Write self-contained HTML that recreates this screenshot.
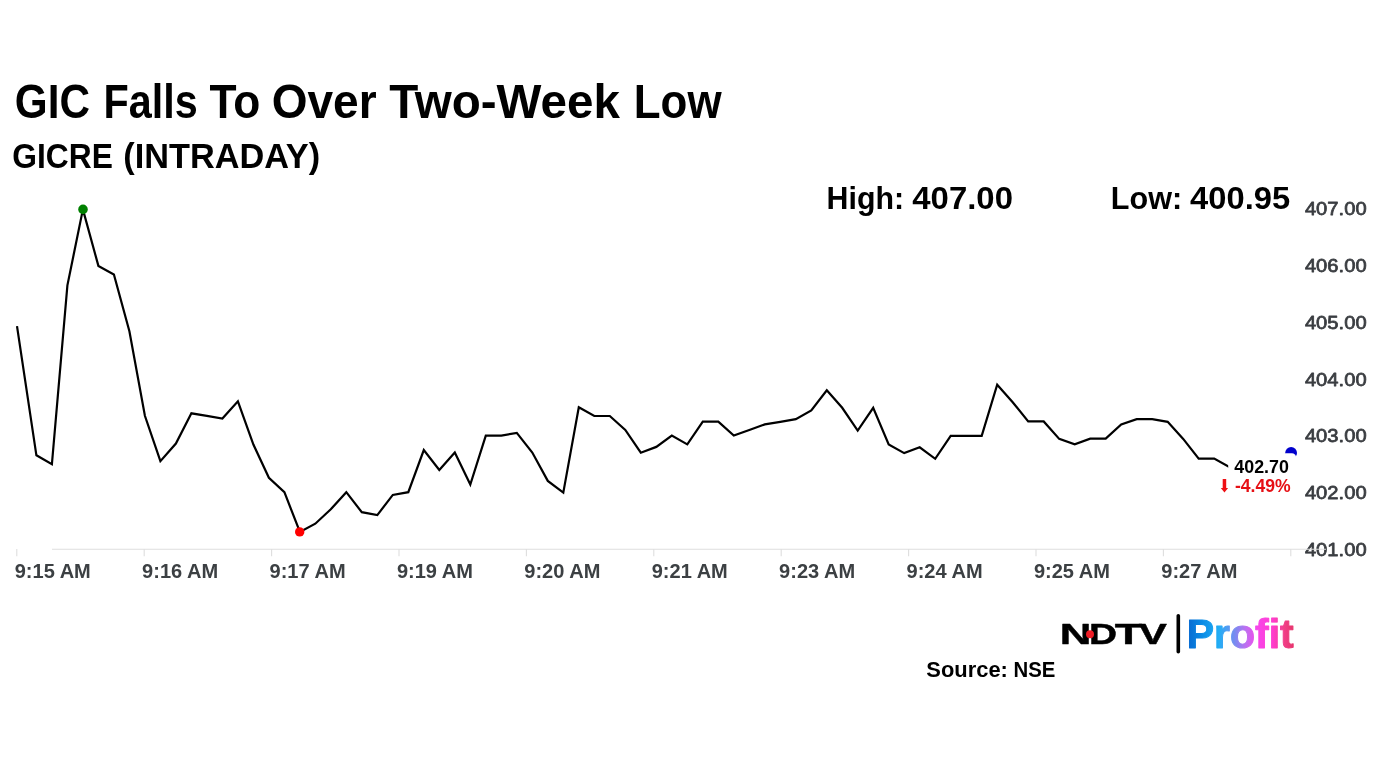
<!DOCTYPE html>
<html lang="en">
<head>
<meta charset="utf-8">
<title>GIC Falls To Over Two-Week Low</title>
<style>
html,body{margin:0;padding:0;background:#fff;}
body{width:1382px;height:777px;overflow:hidden;}
svg{display:block;font-family:"Liberation Sans",sans-serif;}
svg text{white-space:pre;}
</style>
</head>
<body>
<svg width="1382" height="777" viewBox="0 0 1382 777">
<defs>
<linearGradient id="pg" x1="0" y1="0" x2="1" y2="0">
<stop offset="0" stop-color="#0868d0"/>
<stop offset="0.15" stop-color="#0a8de6"/>
<stop offset="0.30" stop-color="#22aef5"/>
<stop offset="0.45" stop-color="#7a8af0"/>
<stop offset="0.56" stop-color="#c26cf0"/>
<stop offset="0.66" stop-color="#f845ea"/>
<stop offset="0.80" stop-color="#ff3dcf"/>
<stop offset="0.90" stop-color="#f2408a"/>
<stop offset="1" stop-color="#e6336a"/>
</linearGradient>
</defs>
<rect width="1382" height="777" fill="#fff"/>

<!-- headings -->
<g id="headings">
<text transform="matrix(0.4226 0 0 0.4757 14.81 117.70)" font-size="100" font-weight="bold" fill="#000" >GIC</text>
<text transform="matrix(0.4137 0 0 0.4757 103.42 117.70)" font-size="100" font-weight="bold" fill="#000" >Falls</text>
<text transform="matrix(0.4428 0 0 0.4757 209.56 117.70)" font-size="100" font-weight="bold" fill="#000" >To</text>
<text transform="matrix(0.4601 0 0 0.4757 271.76 117.70)" font-size="100" font-weight="bold" fill="#000" >Over</text>
<text transform="matrix(0.4756 0 0 0.4757 389.22 117.70)" font-size="100" font-weight="bold" fill="#000" >Two-Week</text>
<text transform="matrix(0.4393 0 0 0.4757 633.76 117.70)" font-size="100" font-weight="bold" fill="#000" >Low</text>
<text transform="matrix(0.3175 0 0 0.3471 12.33 168.40)" font-size="100" font-weight="bold" fill="#000" >GICRE</text>
<text transform="matrix(0.3432 0 0 0.3471 123.23 168.40)" font-size="100" font-weight="bold" fill="#000" >(INTRADAY)</text>
<text transform="matrix(0.3035 0 0 0.3100 826.58 208.60)" font-size="100" font-weight="bold" fill="#000" >High:</text>
<text transform="matrix(0.3293 0 0 0.3100 912.27 208.60)" font-size="100" font-weight="bold" fill="#000" >407.00</text>
<text transform="matrix(0.3056 0 0 0.3100 1110.87 208.60)" font-size="100" font-weight="bold" fill="#000" >Low:</text>
<text transform="matrix(0.3272 0 0 0.3100 1190.07 208.60)" font-size="100" font-weight="bold" fill="#000" >400.95</text>
<text transform="matrix(0.2191 0 0 0.2229 926.36 677.30)" font-size="100" font-weight="bold" fill="#000" >Source:</text>
<text transform="matrix(0.2037 0 0 0.2229 1013.58 677.30)" font-size="100" font-weight="bold" fill="#000" >NSE</text>
</g>
<!-- y axis labels -->
<g id="yaxis">
<text transform="matrix(0.2018 0 0 0.1913 1304.90 215.40)" font-size="100" font-weight="normal" fill="#3a3d41" stroke="#3a3d41" stroke-width="4.07" stroke-linejoin="round" >407.00</text>
<text transform="matrix(0.2018 0 0 0.1913 1304.90 272.10)" font-size="100" font-weight="normal" fill="#3a3d41" stroke="#3a3d41" stroke-width="4.07" stroke-linejoin="round" >406.00</text>
<text transform="matrix(0.2018 0 0 0.1913 1304.90 328.80)" font-size="100" font-weight="normal" fill="#3a3d41" stroke="#3a3d41" stroke-width="4.07" stroke-linejoin="round" >405.00</text>
<text transform="matrix(0.2018 0 0 0.1913 1304.90 385.50)" font-size="100" font-weight="normal" fill="#3a3d41" stroke="#3a3d41" stroke-width="4.07" stroke-linejoin="round" >404.00</text>
<text transform="matrix(0.2018 0 0 0.1913 1304.90 442.20)" font-size="100" font-weight="normal" fill="#3a3d41" stroke="#3a3d41" stroke-width="4.07" stroke-linejoin="round" >403.00</text>
<text transform="matrix(0.2018 0 0 0.1913 1304.90 498.90)" font-size="100" font-weight="normal" fill="#3a3d41" stroke="#3a3d41" stroke-width="4.07" stroke-linejoin="round" >402.00</text>
<text transform="matrix(0.2018 0 0 0.1913 1304.90 555.60)" font-size="100" font-weight="normal" fill="#3a3d41" stroke="#3a3d41" stroke-width="4.07" stroke-linejoin="round" >401.00</text>
</g>
<!-- x axis -->
<g id="xaxis">
<line x1="52" y1="549.2" x2="1326" y2="549.2" stroke="#dedede" stroke-width="1.1"/>
<line x1="16.8" y1="549" x2="16.8" y2="556.2" stroke="#dedede" stroke-width="1.1"/>
<line x1="144.2" y1="549" x2="144.2" y2="556.2" stroke="#dedede" stroke-width="1.1"/>
<line x1="271.6" y1="549" x2="271.6" y2="556.2" stroke="#dedede" stroke-width="1.1"/>
<line x1="399.0" y1="549" x2="399.0" y2="556.2" stroke="#dedede" stroke-width="1.1"/>
<line x1="526.4" y1="549" x2="526.4" y2="556.2" stroke="#dedede" stroke-width="1.1"/>
<line x1="653.8" y1="549" x2="653.8" y2="556.2" stroke="#dedede" stroke-width="1.1"/>
<line x1="781.2" y1="549" x2="781.2" y2="556.2" stroke="#dedede" stroke-width="1.1"/>
<line x1="908.6" y1="549" x2="908.6" y2="556.2" stroke="#dedede" stroke-width="1.1"/>
<line x1="1036.0" y1="549" x2="1036.0" y2="556.2" stroke="#dedede" stroke-width="1.1"/>
<line x1="1163.4" y1="549" x2="1163.4" y2="556.2" stroke="#dedede" stroke-width="1.1"/>
<line x1="1290.8" y1="549" x2="1290.8" y2="556.2" stroke="#dedede" stroke-width="1.1"/>
<text transform="matrix(0.2005 0 0 0.1943 14.70 577.80)" font-size="100" font-weight="bold" fill="#3c4043" >9:15 AM</text>
<text transform="matrix(0.2005 0 0 0.1943 142.10 577.80)" font-size="100" font-weight="bold" fill="#3c4043" >9:16 AM</text>
<text transform="matrix(0.2005 0 0 0.1943 269.50 577.80)" font-size="100" font-weight="bold" fill="#3c4043" >9:17 AM</text>
<text transform="matrix(0.2005 0 0 0.1943 396.90 577.80)" font-size="100" font-weight="bold" fill="#3c4043" >9:19 AM</text>
<text transform="matrix(0.2005 0 0 0.1943 524.30 577.80)" font-size="100" font-weight="bold" fill="#3c4043" >9:20 AM</text>
<text transform="matrix(0.2005 0 0 0.1943 651.70 577.80)" font-size="100" font-weight="bold" fill="#3c4043" >9:21 AM</text>
<text transform="matrix(0.2005 0 0 0.1943 779.10 577.80)" font-size="100" font-weight="bold" fill="#3c4043" >9:23 AM</text>
<text transform="matrix(0.2005 0 0 0.1943 906.50 577.80)" font-size="100" font-weight="bold" fill="#3c4043" >9:24 AM</text>
<text transform="matrix(0.2005 0 0 0.1943 1033.90 577.80)" font-size="100" font-weight="bold" fill="#3c4043" >9:25 AM</text>
<text transform="matrix(0.2005 0 0 0.1943 1161.30 577.80)" font-size="100" font-weight="bold" fill="#3c4043" >9:27 AM</text>
</g>
<!-- series -->
<g id="series">
<polyline points="17.0,326.2 36.4,455.3 51.9,464.3 67.4,285.4 82.9,209.4 98.4,265.9 113.9,274.5 129.4,331.3 144.9,415.8 160.4,461.2 175.9,443.6 191.4,413.3 206.9,415.9 222.4,418.6 237.9,401.3 253.4,444.5 268.9,477.8 284.4,492.2 299.9,531.9 315.3,523.7 330.8,509.3 346.3,492.2 361.8,512.2 377.3,515.1 392.8,494.9 408.3,492.2 423.8,450.0 439.3,470.0 454.8,452.5 470.3,484.6 485.8,435.6 501.3,435.6 516.8,432.9 532.3,452.5 547.8,480.9 563.3,492.6 578.8,407.2 594.3,416.0 609.8,416.0 625.3,430.0 640.8,452.7 656.3,446.9 671.8,435.6 687.3,444.4 702.8,421.6 718.3,421.6 733.8,435.6 749.3,430.0 764.8,424.4 780.3,421.8 795.8,419.1 811.3,410.4 826.8,390.3 842.2,407.8 857.7,430.6 873.2,407.8 888.7,444.4 904.2,453.1 919.7,447.3 935.2,458.8 950.7,435.8 966.2,435.8 981.7,435.8 997.2,384.7 1012.7,402.2 1028.2,421.4 1043.7,421.4 1059.2,438.9 1074.7,444.4 1090.2,438.6 1105.7,438.6 1121.2,424.4 1136.7,419.1 1152.2,419.1 1167.7,421.8 1183.2,438.9 1198.7,458.6 1214.2,458.6 1229.7,467.3 1245.2,470.0 1260.7,464.0 1276.2,458.0 1291.7,452.5" fill="none" stroke="#000" stroke-width="2.2" stroke-linejoin="miter" stroke-linecap="butt"/>
<circle cx="83" cy="209.4" r="4.8" fill="#008000"/>
<circle cx="299.7" cy="531.9" r="4.7" fill="#ff0000"/>
<circle cx="1291.1" cy="452.9" r="5.9" fill="#0000cd"/>
</g>
<!-- last price label -->
<g id="pricelabel">
<rect x="1228.2" y="453.2" width="67.9" height="45" rx="4.2" ry="4.2" fill="#fff"/>
<text transform="matrix(0.1786 0 0 0.1757 1234.32 472.70)" font-size="100" font-weight="bold" fill="#000" >402.70</text>
<text transform="matrix(0.1760 0 0 0.1771 1234.97 492.30)" font-size="100" font-weight="bold" fill="#e61015" >-4.49%</text>
<path d="M1222.7 478.9h3.5v9.2h1.9l-3.65 4.5-3.65-4.5h1.9z" fill="#ee1015"/>
</g>
<!-- logo -->
<g id="logo">
<text transform="matrix(0.4383 0 0 0.2900 1059.82 643.75)" font-size="100" font-weight="bold" fill="#000" stroke="#000" stroke-width="1.40" stroke-linejoin="round" >N</text>
<text transform="matrix(0.3889 0 0 0.2900 1088.92 643.75)" font-size="100" font-weight="bold" fill="#000" stroke="#000" stroke-width="1.49" stroke-linejoin="round" >D</text>
<text transform="matrix(0.4500 0 0 0.2900 1114.80 643.75)" font-size="100" font-weight="bold" fill="#000" stroke="#000" stroke-width="1.38" stroke-linejoin="round" >T</text>
<text transform="matrix(0.4224 0 0 0.2900 1138.75 643.75)" font-size="100" font-weight="bold" fill="#000" stroke="#000" stroke-width="1.43" stroke-linejoin="round" >V</text>
<circle cx="1090" cy="634.2" r="4" fill="#ee1c25"/>
<rect x="1176.5" y="614" width="3.6" height="39.6" rx="1.8" fill="#000"/>
<text transform="matrix(0.4098 0 0 0.4086 1186.74 648.30)" font-size="100" font-weight="bold" fill="url(#pg)" stroke="url(#pg)" stroke-width="2.44" stroke-linejoin="round" >Profit</text>
</g>
</svg>
</body>
</html>
